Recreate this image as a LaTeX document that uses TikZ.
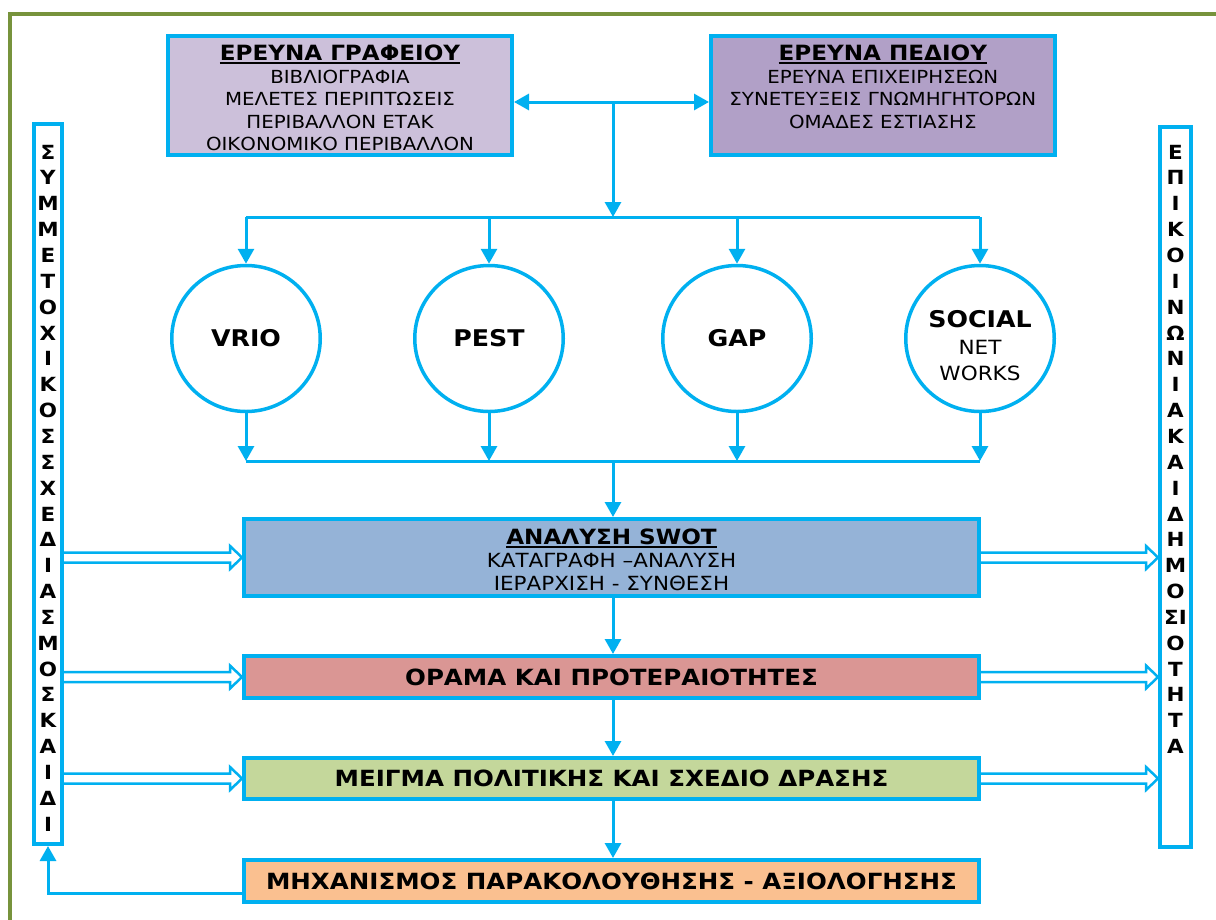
\documentclass[tikz,border=0pt]{standalone}
\usepackage{fontspec}
\setmainfont{DejaVu Sans}[FakeStretch=1.1]
\usetikzlibrary{arrows.meta,calc,shapes.geometric}
\definecolor{cblue}{HTML}{00B0F0}
\definecolor{cframe}{HTML}{77933C}
\definecolor{cfa}{HTML}{CCC0DA}
\definecolor{cfb}{HTML}{B1A0C7}
\definecolor{cswot}{HTML}{95B3D7}
\definecolor{corama}{HTML}{DA9694}
\definecolor{cmeig}{HTML}{C4D79B}
\definecolor{cmech}{HTML}{FAC090}
\newcommand\regf{\fontsize{18}{22.5}\selectfont}
\newcommand\ttlf{\fontsize{21}{22.5}\selectfont\bfseries}
\newcommand\vertf{\fontsize{19.5}{25.85}\selectfont\bfseries}
\newsavebox\ulbox
\newcommand\myul[1]{\sbox\ulbox{#1}\rlap{\rule[-3.5pt]{\wd\ulbox}{2pt}}\usebox\ulbox}
\newcommand\hollowarrow[2]{%
  \draw[hollow] ($(#1)+(0,-5)$) -- ($(#2)+(-12,-5)$) -- ($(#2)+(-12,-11.5)$) -- (#2)
    -- ($(#2)+(-12,11.5)$) -- ($(#2)+(-12,5)$) -- ($(#1)+(0,5)$);}
\begin{document}
\begin{tikzpicture}[x=1pt,y=-1pt,
  box/.style={draw=cblue, line width=4pt, rectangle, inner sep=0pt},
  circ/.style={draw=cblue, fill=white, line width=3.5pt, ellipse, inner sep=0pt,
    minimum width=148.5, minimum height=146, font=\fontsize{23}{26}\selectfont\bfseries},
  conn/.style={draw=cblue, line width=3pt, -{Triangle[width=16pt,length=15pt]}},
  plain/.style={draw=cblue, line width=3pt},
  hollow/.style={draw=cblue, line width=2.5pt, fill=white, line join=miter},
  txt/.style={align=center, inner sep=0pt, font=\regf},
  bigtxt/.style={font=\fontsize{22.3}{22.5}\selectfont\bfseries},
  vert/.style={align=center, inner sep=0pt, font=\vertf, anchor=north}]
\useasboundingbox (0,0) rectangle (1216,919);
\fill[white] (0,0) rectangle (1216,919);
\draw[cframe, line width=4pt] (9.5,14) rectangle (1260,960);

% top boxes
\node[box, fill=cfa, minimum width=344, minimum height=119] (b1) at (340,95.5) {};
\node[txt, anchor=north] (t1) at ($(b1.north)+(0,10.8)$)
  {\myul{\ttlf ΕΡΕΥΝΑ ΓΡΑΦΕΙΟΥ}\\ΒΙΒΛΙΟΓΡΑΦΙΑ\\ΜΕΛΕΤΕΣ ΠΕΡΙΠΤΩΣΕΙΣ\\ΠΕΡΙΒΑΛΛΟΝ ΕΤΑΚ\\ΟΙΚΟΝΟΜΙΚΟ ΠΕΡΙΒΑΛΛΟΝ};
\node[box, fill=cfb, minimum width=343.6, minimum height=119] (b2) at (882.8,95.5) {};
\node[txt, anchor=north] (t2) at ($(b2.north)+(0,10.8)$)
  {\myul{\ttlf ΕΡΕΥΝΑ ΠΕΔΙΟΥ}\\ΕΡΕΥΝΑ ΕΠΙΧΕΙΡΗΣΕΩΝ\\ΣΥΝΕΤΕΥΞΕΙΣ ΓΝΩΜΗΓΗΤΟΡΩΝ\\ΟΜΑΔΕΣ ΕΣΤΙΑΣΗΣ};

% circles
\node[circ] (c1) at (246,338.5) {VRIO};
\node[circ] (c2) at (489,338.5) {PEST};
\node[circ] (c3) at (737,338.5) {GAP};
\node[circ] (c4) at (980,338.5) {};
\node[txt, anchor=north, font=\fontsize{19.6}{26.5}\selectfont] (t4) at (980,310.5)
  {{\fontsize{23}{26.5}\selectfont\bfseries SOCIAL}\\NET\\WORKS};

% main column
\node[box, fill=cswot, minimum width=735, minimum height=77] (swot) at (611.5,557.5) {};
\node[txt, anchor=north, font=\fontsize{19.5}{22.8}\selectfont] (ts) at (611.5,529)
  {\myul{\ttlf ΑΝΑΛΥΣΗ SWOT}\\ΚΑΤΑΓΡΑΦΗ –ΑΝΑΛΥΣΗ\\ΙΕΡΑΡΧΙΣΗ - ΣΥΝΘΕΣΗ};
\node[box, fill=corama, minimum width=735, minimum height=42, bigtxt] (orama) at (611.5,677) {ΟΡΑΜΑ ΚΑΙ ΠΡΟΤΕΡΑΙΟΤΗΤΕΣ};
\node[box, fill=cmeig, minimum width=735, minimum height=41, bigtxt] (meig) at (611.5,778.5) {ΜΕΙΓΜΑ ΠΟΛΙΤΙΚΗΣ ΚΑΙ ΣΧΕΔΙΟ ΔΡΑΣΗΣ};
\node[box, fill=cmech, minimum width=735, minimum height=42, bigtxt] (mech) at (611.5,881) {ΜΗΧΑΝΙΣΜΟΣ ΠΑΡΑΚΟΛΟΥΘΗΣΗΣ - ΑΞΙΟΛΟΓΗΣΗΣ};

% side boxes
\node[box, fill=white, minimum width=28, minimum height=720] (lbox) at (48,484) {};
\node[vert] (lt) at (48,144.7) {Σ\\Υ\\Μ\\Μ\\Ε\\Τ\\Ο\\Χ\\Ι\\Κ\\Ο\\Σ\\Σ\\Χ\\Ε\\Δ\\Ι\\Α\\Σ\\Μ\\Ο\\Σ\\Κ\\Α\\Ι\\Δ\\Ι};
\node[box, fill=white, minimum width=31, minimum height=720] (rbox) at (1175.5,487) {};
\node[vert] (rt) at (1175.5,144.7) {Ε\\Π\\Ι\\Κ\\Ο\\Ι\\Ν\\Ω\\Ν\\Ι\\Α\\Κ\\Α\\Ι\\Δ\\Η\\Μ\\Ο\\ΣΙ\\Ο\\Τ\\Η\\Τ\\Α};

% top connectors
\coordinate (j0) at (613,102);
\coordinate (j1) at (613,217);
\draw[conn] (j0) -- (b1.east|-j0);
\draw[conn] (j0) -- (b2.west|-j0);
\draw[conn] (j0) -- (j1);
\draw[plain] (c1|-j1) -- (c4|-j1);
\foreach \c in {c1,c2,c3,c4} \draw[conn] (\c|-j1) -- (\c.north);

% bottom of circles
\coordinate (j2) at (613,461);
\foreach \c in {c1,c2,c3,c4} \draw[conn] (\c.south) -- (\c|-j2);
\draw[plain] (c1|-j2) -- (c4|-j2);
\draw[conn] (j2) -- (j2|-swot.north);
\draw[conn] (j2|-swot.south) -- (j2|-orama.north);
\draw[conn] (j2|-orama.south) -- (j2|-meig.north);
\draw[conn] (j2|-meig.south) -- (j2|-mech.north);

% feedback
\coordinate (fb) at (613,893);
\draw[conn] (mech.west|-fb) -| (lbox.south);

% hollow arrows
\hollowarrow{lbox.east|-swot.west}{swot.west}
\hollowarrow{lbox.east|-orama.west}{orama.west}
\hollowarrow{lbox.east|-meig.west}{meig.west}
\hollowarrow{swot.east}{rbox.west|-swot.east}
\hollowarrow{orama.east}{rbox.west|-orama.east}
\hollowarrow{meig.east}{rbox.west|-meig.east}
\end{tikzpicture}
\end{document}
